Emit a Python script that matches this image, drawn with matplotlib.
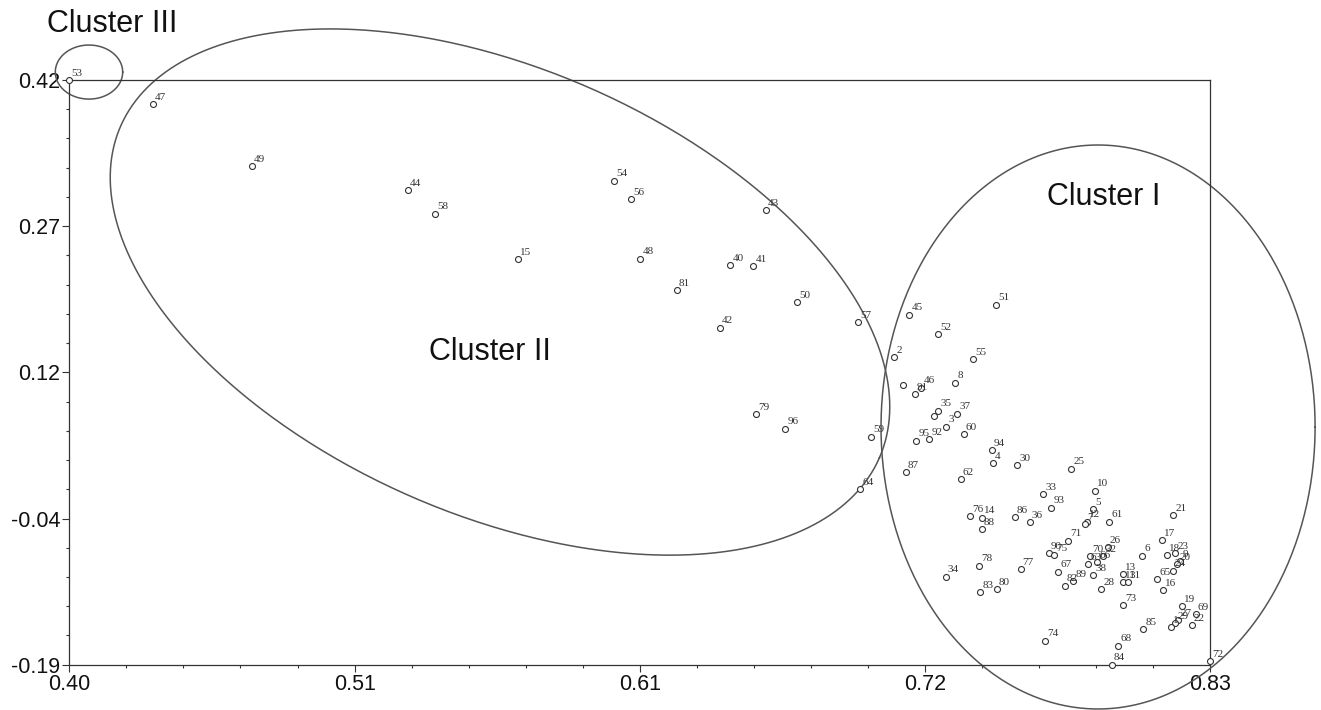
import numpy as np
import matplotlib.pyplot as plt

# point ids and coordinates
point_ids = ["53", "47", "49", "44", "58", "15", "54", "56", "43", "48",
             "40", "41", "81", "50", "42", "79", "96", "57", "59", "64",
             "87", "2", "45", "52", "51", "55", "", "91", "46", "8",
             "35", "", "37", "3", "60", "95", "92", "94", "4", "62",
             "30", "25", "33", "93", "10", "5", "12", "7", "61", "21",
             "76", "14", "88", "86", "36", "71", "17", "26", "90", "75",
             "70", "66", "32", "63", "38", "6", "18", "23", "9", "20",
             "67", "78", "77", "34", "82", "89", "28", "13", "11", "31",
             "65", "24", "16", "83", "80", "73", "19", "69", "22", "27",
             "29", "1", "85", "74", "68", "84", "72"]
dim1 = [0.4000, 0.4315, 0.4687, 0.5276, 0.5379, 0.5691, 0.6052, 0.6117, 0.6626, 0.6152,
        0.6491, 0.6578, 0.6290, 0.6744, 0.6452, 0.6588, 0.6698, 0.6973, 0.7021, 0.6980,
        0.7153, 0.7108, 0.7166, 0.7275, 0.7492, 0.7407, 0.7141, 0.7187, 0.7211, 0.7339,
        0.7275, 0.7260, 0.7347, 0.7304, 0.7371, 0.7192, 0.7240, 0.7477, 0.7480, 0.7360,
        0.7573, 0.7776, 0.7671, 0.7700, 0.7864, 0.7859, 0.7834, 0.7828, 0.7919, 0.8161,
        0.7394, 0.7438, 0.7438, 0.7564, 0.7620, 0.7765, 0.8119, 0.7913, 0.7692, 0.7711,
        0.7847, 0.7874, 0.7897, 0.7840, 0.7859, 0.8044, 0.8136, 0.8167, 0.8186, 0.8175,
        0.7727, 0.7429, 0.7585, 0.7303, 0.7752, 0.7784, 0.7888, 0.7972, 0.7972, 0.7989,
        0.8100, 0.8158, 0.8123, 0.7433, 0.7496, 0.7970, 0.8192, 0.8245, 0.8230, 0.8179,
        0.8167, 0.8152, 0.8047, 0.7677, 0.7953, 0.7928, 0.8300]
dim2 = [0.4200, 0.3946, 0.3303, 0.3052, 0.2805, 0.2329, 0.3149, 0.2958, 0.2844, 0.2336,
        0.2266, 0.2259, 0.2009, 0.1884, 0.1616, 0.0715, 0.0562, 0.1675, 0.0479, -0.0070,
        0.0110, 0.1307, 0.1751, 0.1550, 0.1856, 0.1289, 0.1018, 0.0921, 0.0990, 0.1042,
        0.0750, 0.0694, 0.0719, 0.0583, 0.0507, 0.0437, 0.0451, 0.0340, 0.0201, 0.0037,
        0.0180, 0.0145, -0.0119, -0.0262, -0.0085, -0.0279, -0.0408, -0.0432, -0.0408, -0.0338,
        -0.0349, -0.0367, -0.0484, -0.0359, -0.0415, -0.0607, -0.0599, -0.0675, -0.0738, -0.0756,
        -0.0766, -0.0832, -0.0766, -0.0853, -0.0964, -0.0763, -0.0759, -0.0738, -0.0818, -0.0850,
        -0.0930, -0.0867, -0.0902, -0.0982, -0.1076, -0.1027, -0.1114, -0.0957, -0.1041, -0.1041,
        -0.1006, -0.0920, -0.1121, -0.1145, -0.1114, -0.1277, -0.1288, -0.1371, -0.1486, -0.1434,
        -0.1468, -0.1507, -0.1528, -0.1650, -0.1702, -0.1900, -0.1862]

x_tick_labels = ["0.40", "0.51", "0.61", "0.72", "0.83"]
y_tick_labels = ["0.42", "0.27", "0.12", "-0.04", "-0.19"]

# cluster outlines: name, label position, ellipse centre and two half-axis vectors
clusters = [
    ("Cluster I", (0.7899, 0.2979), (0.7877, 0.0580), (0.0818, 0.0), (0.0, 0.2942)),
    ("Cluster II", (0.5585, 0.1362), (0.5623, 0.1988), (0.1430, -0.1729), (-0.0336, -0.2132)),
    ("Cluster III", (0.4161, 0.4784), (0.4074, 0.4283), (0.0127, 0.0), (0.0, 0.0282)),
]

ink = "#333333"
sans = "Liberation Sans"
serif = "Liberation Serif"

fig = plt.figure(figsize=(13.21, 7.10), dpi=100)
ax = fig.add_axes([0.0525, 0.0638, 0.8637, 0.8235])

ax.plot(dim1, dim2, "o", ms=4.3, mfc="white", mec=ink, mew=0.8,
        clip_on=False, zorder=3)
for pid, x, y in zip(point_ids, dim1, dim2):
    if pid:
        ax.annotate(pid, (x, y), xytext=(1.5, 3.2), textcoords="offset points",
                    ha="left", va="baseline", fontsize=8, family=serif,
                    color=ink, annotation_clip=False)

t = np.linspace(0, 2 * np.pi, 500)
for name, (tx, ty), (cx, cy), (ux, uy), (vx, vy) in clusters:
    ax.plot(cx + ux * np.cos(t) + vx * np.sin(t),
            cy + uy * np.cos(t) + vy * np.sin(t),
            color="#555555", lw=1.1, clip_on=False, zorder=2)
    ax.text(tx, ty, name, ha="center", va="center", fontsize=22,
            family=sans, color="#111111")

ax.set_xlim(0.40, 0.83)
ax.set_ylim(-0.19, 0.42)
ax.set_xticks(np.linspace(0.40, 0.83, 5))
ax.set_xticklabels(x_tick_labels)
ax.set_yticks(np.linspace(0.42, -0.19, 5))
ax.set_yticklabels(y_tick_labels)
ax.set_xticks(np.linspace(0.40, 0.83, 21), minor=True)
ax.set_yticks(np.linspace(-0.19, 0.42, 21), minor=True)
ax.tick_params(which="major", length=5, width=0.8, color=ink, pad=1.5,
               labelsize=15.5, labelcolor="#111111")
ax.tick_params(which="minor", length=2.5, width=0.8, color=ink)
for lab in ax.get_xticklabels() + ax.get_yticklabels():
    lab.set_family(sans)
for side in ax.spines.values():
    side.set_color(ink)
    side.set_linewidth(0.9)

plt.savefig("out.png", dpi=100)
plt.close()
